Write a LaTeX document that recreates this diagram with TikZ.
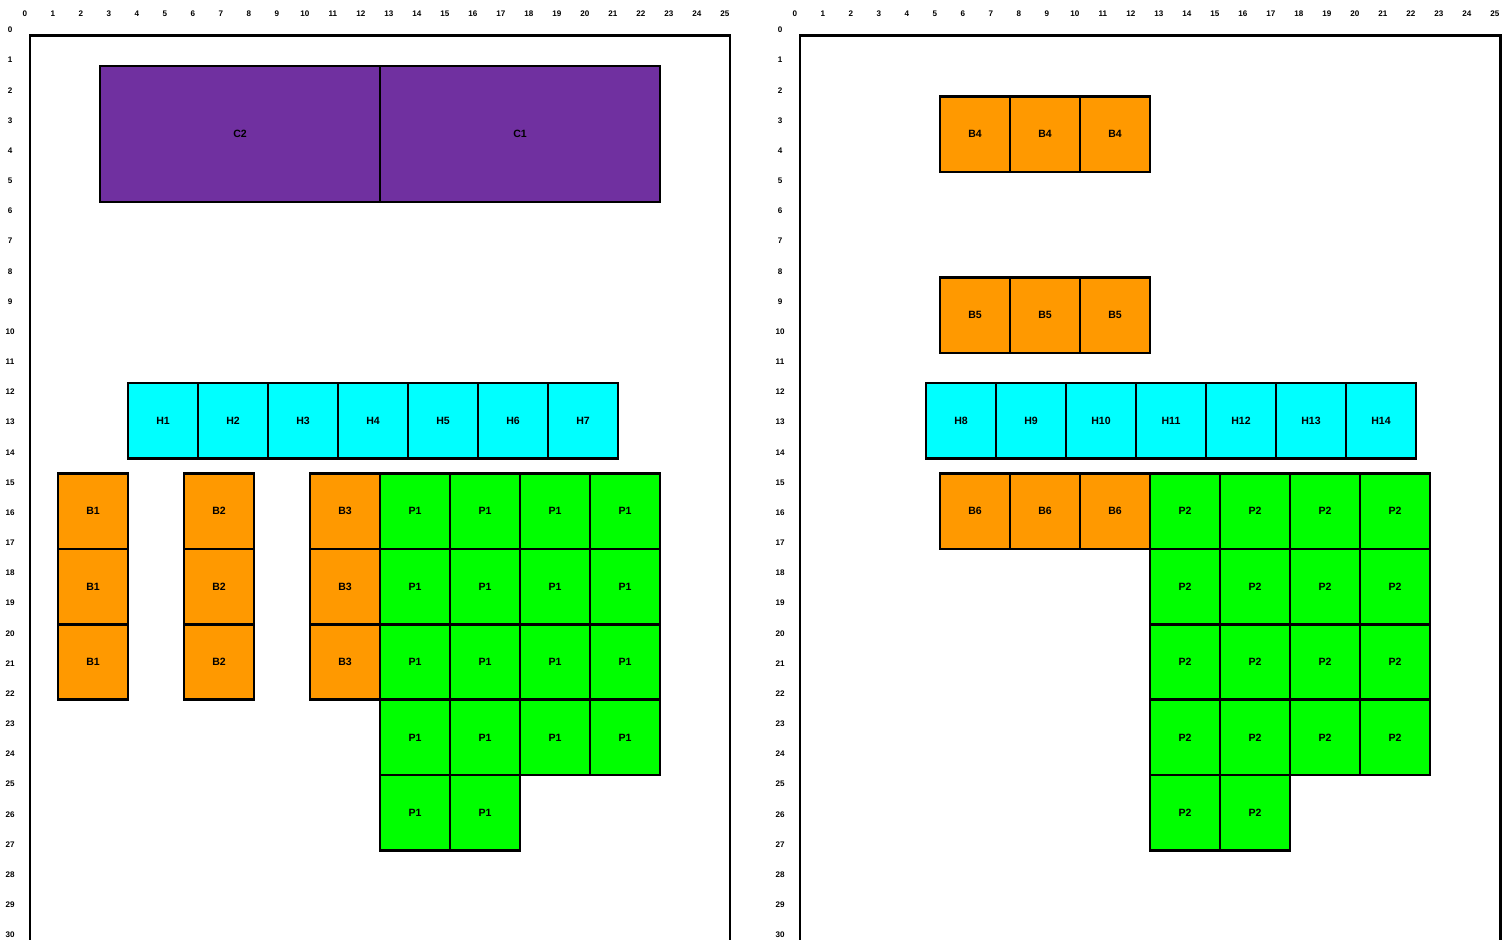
\documentclass[tikz,border=0pt]{standalone}
\usepackage{fontspec}
\setmainfont{Liberation Sans}
\definecolor{roompurple}{HTML}{7030A0}
\definecolor{roomorange}{HTML}{FF9900}
\definecolor{roomcyan}{HTML}{00FFFF}
\definecolor{roomgreen}{HTML}{00FF00}
\tikzset{
  cell/.style={draw, line width=1.4pt, inner sep=0pt, minimum width=1.4cm,
    minimum height=1.5085cm, font=\fontsize{6}{7}\selectfont\bfseries},
  bigcell/.style={cell, minimum width=5.6cm, minimum height=2.7153cm, fill=roompurple},
  ruler/.style={inner sep=0pt, font=\fontsize{4.6}{5}\selectfont\bfseries},
  frame/.style={line width=1.7pt}
}
\begin{document}
\begin{tikzpicture}[x=0.56cm, y=-0.6034cm]
    \useasboundingbox (-1.0714,-1.193) rectangle (52.786,29.96);

    % rulers and outer frames
    \foreach \ox/\side in {0/l, 27.5/r} {
      \draw[frame] (\ox,31) -- (\ox,0) -- (\ox+25,0) -- (\ox+25,31);
      \foreach \i in {0,...,25}
        \node[ruler] (top\side\i) at (\ox+\i-0.18,-0.73) {\i};
      \foreach \i in {0,...,30}
        \node[ruler] (lft\side\i) at (\ox-0.714,\i-0.2) {\i};
    }

    % left block: C2 / C1
    \node[bigcell] (c2) at (7.5,3.25) {C2};
    \node[bigcell] (c1) at (17.5,3.25) {C1};

    % left block: H1 ... H7
    \foreach \k in {1,...,7}
      \node[cell, fill=roomcyan] (h\k) at (2.25+2.5*\k,12.75) {H\k};

    % left block: B1, B2, B3 columns
    \foreach \b/\x in {1/2.25, 2/6.75, 3/11.25}
      \foreach \r/\y in {1/15.75, 2/18.25, 3/20.75}
        \node[cell, fill=roomorange] (b\b r\r) at (\x,\y) {B\b};

    % left block: P1
    \foreach \c/\x in {1/13.75, 2/16.25, 3/18.75, 4/21.25}
      \foreach \r/\y in {1/15.75, 2/18.25, 3/20.75, 4/23.25}
        \node[cell, fill=roomgreen] (pa\r\c) at (\x,\y) {P1};
    \node[cell, fill=roomgreen] (pa51) at (13.75,25.75) {P1};
    \node[cell, fill=roomgreen] (pa52) at (16.25,25.75) {P1};

    % right block: B4, B5, B6 rows
    \foreach \b/\y in {4/3.25, 5/9.25, 6/15.75}
      \foreach \c/\x in {1/33.75, 2/36.25, 3/38.75}
        \node[cell, fill=roomorange] (b\b c\c) at (\x,\y) {B\b};

    % right block: H8 ... H14
    \foreach \k in {8,...,14}
      \node[cell, fill=roomcyan] (h\k) at (13.25+2.5*\k,12.75) {H\k};

    % right block: P2
    \foreach \c/\x in {1/41.25, 2/43.75, 3/46.25, 4/48.75}
      \foreach \r/\y in {1/15.75, 2/18.25, 3/20.75, 4/23.25}
        \node[cell, fill=roomgreen] (pb\r\c) at (\x,\y) {P2};
    \node[cell, fill=roomgreen] (pb51) at (41.25,25.75) {P2};
    \node[cell, fill=roomgreen] (pb52) at (43.75,25.75) {P2};
  \end{tikzpicture}
\end{document}
